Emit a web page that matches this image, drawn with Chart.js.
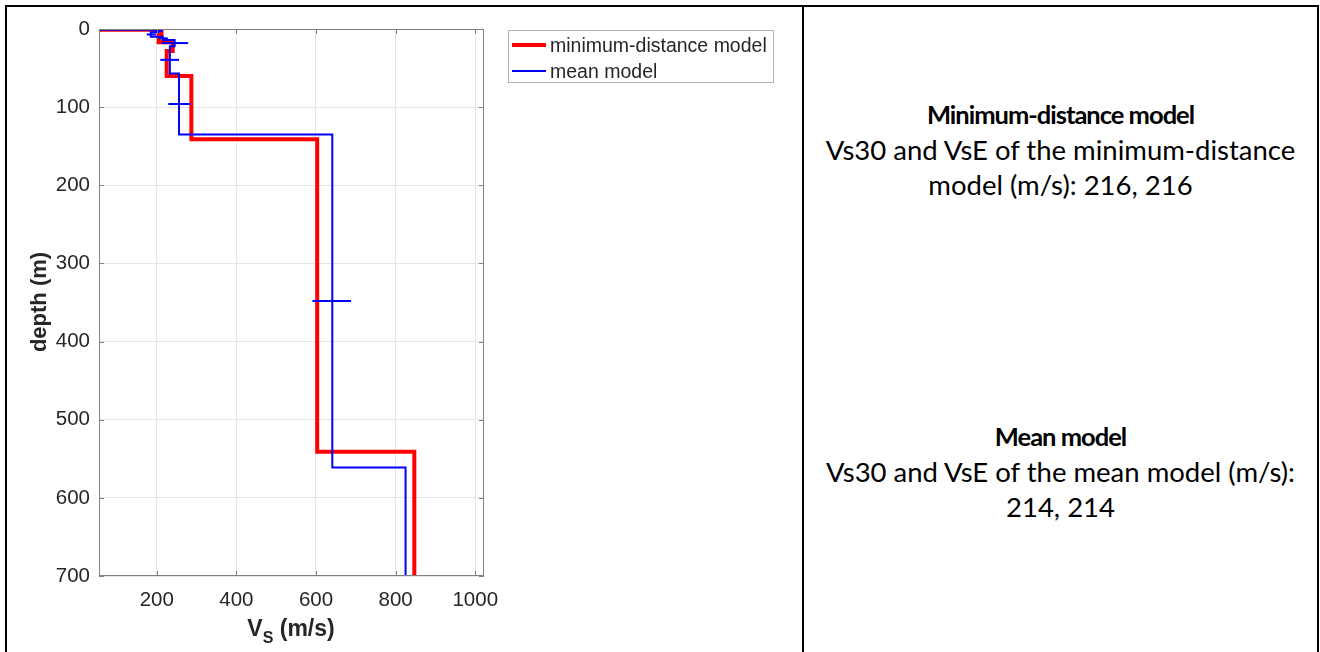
<!DOCTYPE html>
<html>
<head>
<meta charset="utf-8">
<script src="https://cdn.jsdelivr.net/npm/chart.js@4.4.1/dist/chart.umd.min.js"></script>
<style>
  body { margin: 0; width: 1320px; height: 652px; background: #fff; overflow: hidden; position: relative;
         font-family: "Liberation Sans", Arial, sans-serif; color: #262626; }
  .rule { position: absolute; background: #000; }
  #plotBox { position: absolute; left: 0; top: 0; width: 803px; height: 652px; }
  #legend { position: absolute; left: 508px; top: 30px; width: 264px; height: 51px; border: 1px solid #b4b4b4;
            background: #fff; font-size: 19.5px; color: #262626; }
  .item { position: absolute; left: 0; height: 26px; line-height: 26px; white-space: nowrap; }
  .swatch { position: absolute; left: 3px; width: 34px; }
  .item span { position: absolute; left: 41px; }
  #xTitle { position: absolute; left: 191px; width: 200px; top: 617px; text-align: center; font-weight: bold;
            font-size: 23px; line-height: 23px; }
  #xTitle .sub { font-size: 16px; position: relative; top: 7px; }
  #yTitle { position: absolute; left: -61px; top: 289px; width: 200px; height: 26px; line-height: 26px;
            text-align: center; font-weight: bold; font-size: 22px; transform: rotate(-90deg); }
  .note { position: absolute; left: 804px; width: 513px; text-align: center; font-family: Lato, "Open Sans", sans-serif;
          font-size: 27.5px; line-height: 35px; color: #000; }
  .note b { font-weight: bold; font-size: 25.5px; letter-spacing: -1px; }
</style>
</head>
<body>
<div class="rule" style="left:5px; top:5px; width:1314px; height:2px"></div>
<div class="rule" style="left:5px; top:5px; width:2px; height:647px"></div>
<div class="rule" style="left:802px; top:5px; width:2px; height:647px"></div>
<div class="rule" style="left:1317px; top:5px; width:2px; height:647px"></div>

<div id="plotBox"><canvas id="profileChart"></canvas></div>

<div id="legend">
  <div class="item" style="top:1px"><div class="swatch" style="top:11px; height:4px; background:#ff0000"></div><span>minimum-distance model</span></div>
  <div class="item" style="top:27px"><div class="swatch" style="top:12px; height:2px; background:#0000ff"></div><span>mean model</span></div>
</div>
<div id="xTitle">V<span class="sub">S</span> (m/s)</div>
<div id="yTitle">depth (m)</div>

<div class="note" style="top:96px">
  <b>Minimum-distance model</b><br>
  Vs30 and VsE of the minimum-distance<br>
  model (m/s): 216, 216
</div>
<div class="note" style="top:418px">
  <b>Mean model</b><br>
  Vs30 and VsE of the mean model (m/s):<br>
  214, 214
</div>

<script>
// minimum-distance model: Vs of each layer and depth of each layer top (m)
const minDistVs = [62, 212, 205, 240, 225, 287, 603, 847];
const minDistTop = [0, 0.8, 8, 17, 28, 60, 141, 541];
// mean model
const meanVs = [60, 205, 185, 215, 245, 233, 256, 641, 825];
const meanTop = [0, 0.8, 4, 10, 14, 22, 57, 135, 561];
const profileBottom = 700;
// mean model Vs spread, drawn at mid-depth of each layer
const errDepth = [2.4, 7, 12, 18, 39.5, 96, 348];
const errLow = [195, 175, 205, 212, 209, 229, 591];
const errHigh = [215, 198, 228, 279, 256, 285, 688];
// axes
const xTicks = [200, 400, 600, 800, 1000];
const depthTicks = [0, 100, 200, 300, 400, 500, 600, 700];

function stairs(vs, tops, bottom) {
  const pts = [];
  vs.forEach((v, i) => {
    const next = i + 1 < tops.length ? tops[i + 1] : bottom;
    pts.push({x: v, y: tops[i]});
    pts.push({x: v, y: next});
  });
  return pts;
}

const errorSets = errDepth.map((d, i) => ({
  label: 'err' + i,
  data: [{x: errLow[i], y: d}, {x: errHigh[i], y: d}],
  borderColor: '#0000ff',
  borderWidth: 2,
  showLine: true,
  pointRadius: 0,
  order: 0
}));

// MATLAB-like box with inner ticks
const boxPlugin = {
  id: 'box',
  afterDraw(chart) {
    const {ctx, chartArea: a, scales: {x, y}} = chart;
    ctx.save();
    ctx.strokeStyle = '#808080';
    ctx.lineWidth = 1;
    ctx.strokeRect(a.left + 0.5, a.top + 0.5, a.right - a.left - 1, a.bottom - a.top - 1);
    ctx.beginPath();
    xTicks.forEach(v => {
      const px = Math.round(x.getPixelForValue(v)) + 0.5;
      ctx.moveTo(px, a.bottom); ctx.lineTo(px, a.bottom - 5);
      ctx.moveTo(px, a.top); ctx.lineTo(px, a.top + 5);
    });
    depthTicks.forEach(v => {
      const py = Math.round(y.getPixelForValue(v)) + 0.5;
      ctx.moveTo(a.left, py); ctx.lineTo(a.left + 5, py);
      ctx.moveTo(a.right, py); ctx.lineTo(a.right - 5, py);
    });
    ctx.stroke();
    ctx.restore();
  }
};

new Chart(document.getElementById('profileChart'), {
  type: 'scatter',
  data: {
    datasets: [
      {
        label: 'minimum-distance model',
        data: stairs(minDistVs, minDistTop, profileBottom),
        borderColor: '#ff0000',
        borderWidth: 4,
        showLine: true,
        pointRadius: 0,
        order: 1
      },
      {
        label: 'mean model',
        data: stairs(meanVs, meanTop, profileBottom),
        borderColor: '#0000ff',
        borderWidth: 2,
        showLine: true,
        pointRadius: 0,
        order: 0
      },
      ...errorSets
    ]
  },
  options: {
    responsive: true,
    maintainAspectRatio: false,
    animation: false,
    layout: { padding: { left: 0, top: 29, right: 319, bottom: 0 } },
    scales: {
      x: {
        type: 'linear',
        min: 55,
        max: 1022,
        afterBuildTicks: s => { s.ticks = xTicks.map(v => ({value: v})); },
        afterFit: s => { s.height = 76; },
        grid: { color: '#e6e6e6', drawTicks: false },
        border: { display: false },
        ticks: { padding: 12, color: '#262626', font: { family: 'Liberation Sans', size: 20.5 }, maxRotation: 0,
                 callback: v => String(v) }
      },
      y: {
        type: 'linear',
        reverse: true,
        min: 0,
        max: 700,
        afterBuildTicks: s => { s.ticks = depthTicks.map(v => ({value: v})); },
        afterFit: s => { s.width = 99; },
        grid: { color: '#e6e6e6', drawTicks: false },
        border: { display: false },
        ticks: { padding: 9, color: '#262626', font: { family: 'Liberation Sans', size: 20.5 },
                 callback: v => String(v) }
      }
    },
    plugins: {
      legend: { display: false },
      tooltip: { enabled: false }
    }
  },
  plugins: [boxPlugin]
});
</script>
</body>
</html>
